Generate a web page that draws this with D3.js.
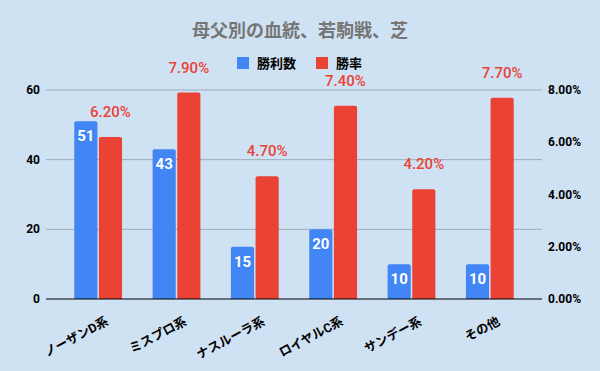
<!DOCTYPE html>
<html>
<head>
<meta charset="utf-8">
<script src="https://cdn.jsdelivr.net/npm/d3@7"></script>
<style>
  body { margin: 0; background: #cfe2f3; }
  text { font-family: Roboto, "Noto Sans CJK JP", sans-serif; }
</style>
</head>
<body>
<div id="vis"></div>
<script>
const categories = ["ノーザンD系", "ミスプロ系", "ナスルーラ系", "ロイヤルC系", "サンデー系", "その他"];
const wins = [51, 43, 15, 20, 10, 10];
const winRate = [6.2, 7.9, 4.7, 7.4, 4.2, 7.7];
const leftTicks = [0, 20, 40, 60];
const rightTicks = [0, 2, 4, 6, 8];

const width = 600, height = 371;
const plot = { left: 46, right: 542, top: 90, bottom: 299 };

const data = categories.map((c, i) => ({ cat: c, wins: wins[i], rate: winRate[i] }));

const svg = d3.select("#vis").append("svg")
    .attr("width", width)
    .attr("height", height);

svg.append("rect").attr("width", width).attr("height", height).attr("fill", "#cfe2f3");

const x = d3.scaleBand().domain(categories).range([59, 529]).paddingInner(0.39).paddingOuter(0.195);
const inner = d3.scaleBand().domain(["wins", "rate"]).range([0, x.bandwidth()]).paddingInner(0.06);
const yL = d3.scaleLinear().domain([0, 60]).range([plot.bottom, plot.top]);
const yR = d3.scaleLinear().domain([0, 8]).range([plot.bottom, plot.top]);

// grid
svg.append("g")
    .selectAll("line")
    .data(leftTicks.filter(d => d > 0))
    .join("line")
    .attr("x1", plot.left).attr("x2", plot.right)
    .attr("y1", d => yL(d)).attr("y2", d => yL(d))
    .attr("stroke", "#9eabb8").attr("stroke-width", 1);

// left axis labels
svg.append("g")
    .selectAll("text")
    .data(leftTicks)
    .join("text")
    .attr("x", 40).attr("y", d => yL(d) + 4)
    .attr("text-anchor", "end")
    .attr("font-size", 12).attr("font-weight", "bold")
    .text(d => d);

// right axis labels
svg.append("g")
    .selectAll("text")
    .data(rightTicks)
    .join("text")
    .attr("x", 548).attr("y", d => yR(d) + 4)
    .attr("text-anchor", "start")
    .attr("font-size", 12).attr("font-weight", "bold")
    .text(d => d.toFixed(2) + "%");

// bars
const groups = svg.append("g")
    .selectAll("g")
    .data(data)
    .join("g")
    .attr("transform", d => `translate(${x(d.cat)},0)`);

groups.append("path")
    .attr("fill", "#4285f4")
    .attr("d", d => topRounded(inner("wins"), yL(d.wins), inner.bandwidth(), yL(0) - yL(d.wins), 2));

groups.append("path")
    .attr("fill", "#ea4335")
    .attr("d", d => topRounded(inner("rate"), yR(d.rate), inner.bandwidth(), yR(0) - yR(d.rate), 2));

groups.append("text")
    .attr("x", inner("wins") + inner.bandwidth() / 2)
    .attr("y", d => yL(d.wins) + 20)
    .attr("text-anchor", "middle")
    .attr("fill", "#fff")
    .attr("font-size", 15).attr("font-weight", "bold")
    .text(d => d.wins);

groups.append("text")
    .attr("x", inner("rate") + inner.bandwidth() / 2)
    .attr("y", d => yR(d.rate) - 20)
    .attr("text-anchor", "middle")
    .attr("fill", "#ea4335")
    .attr("font-size", 15).attr("font-weight", 500)
    .text(d => d.rate.toFixed(2) + "%");

// baseline
svg.append("line")
    .attr("x1", plot.left).attr("x2", plot.right)
    .attr("y1", plot.bottom).attr("y2", plot.bottom)
    .attr("stroke", "#000").attr("stroke-width", 1);

// x labels
svg.append("g")
    .selectAll("text")
    .data(categories)
    .join("text")
    .attr("transform", d => `translate(${x(d) + x.bandwidth() / 2 + 11},${324}) rotate(-28)`)
    .attr("text-anchor", "end")
    .attr("font-size", 12.5).attr("font-weight", "bold")
    .text(d => d);

// title
svg.append("text")
    .attr("x", 300).attr("y", 37)
    .attr("text-anchor", "middle")
    .attr("fill", "#757575")
    .attr("font-size", 18).attr("font-weight", "bold")
    .text("母父別の血統、若駒戦、芝");

// legend
const legendItems = [
    { label: "勝利数", color: "#4285f4", x: 237 },
    { label: "勝率", color: "#ea4335", x: 316 }
];
const legend = svg.append("g")
    .selectAll("g")
    .data(legendItems)
    .join("g")
    .attr("transform", d => `translate(${d.x},57)`);
legend.append("rect").attr("width", 12).attr("height", 12).attr("fill", d => d.color);
legend.append("text")
    .attr("x", 20).attr("y", 11)
    .attr("font-size", 13).attr("font-weight", "bold")
    .text(d => d.label);

function topRounded(x0, y0, w, h, r) {
    return `M${x0},${y0 + h} V${y0 + r} Q${x0},${y0} ${x0 + r},${y0} H${x0 + w - r} Q${x0 + w},${y0} ${x0 + w},${y0 + r} V${y0 + h} Z`;
}
</script>
</body>
</html>
